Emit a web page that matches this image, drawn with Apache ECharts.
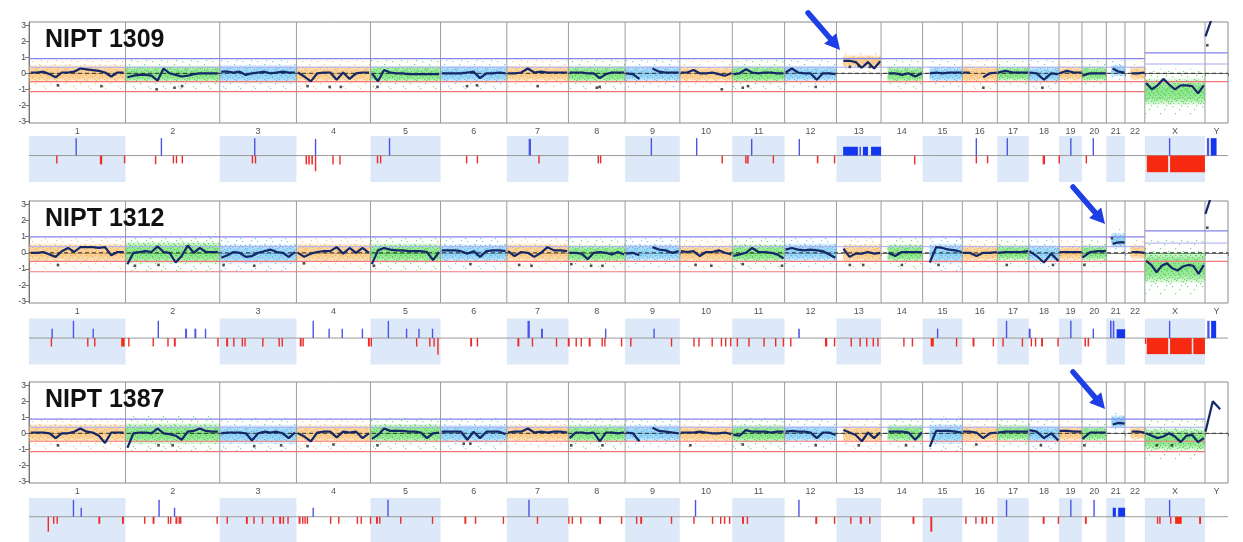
<!DOCTYPE html>
<html><head><meta charset="utf-8">
<script src="https://cdn.jsdelivr.net/npm/echarts@6/dist/echarts.min.js"></script>
<style>html,body{margin:0;padding:0;background:#fff}#c{width:1243px;height:542px}</style>
</head><body><div id="c"></div>
<script>
// ---------------- DATA ----------------
const chromNames = ['1','2','3','4','5','6','7','8','9','10','11','12','13','14','15','16','17','18','19','20','21','22','X','Y'];
const chromLengths = [249.25,243.2,198.0,191.15,180.9,171.1,159.1,146.4,141.2,135.5,135.0,133.85,115.2,107.35,102.5,90.35,81.2,78.1,59.1,63.0,48.1,51.3,155.3,59.4];
const acroGapMb = [0,0,0,0,0,0,0,0,0,0,0,0,17,17,18,0,0,0,0,0,13,14,0,0];
const yTicks = [-3,-2,-1,0,1,2,3];
const sampleNames = ['NIPT 1309','NIPT 1312','NIPT 1387'];

// segmentation (dark line), values read along each chromosome
const seg1309 = [
 [0.05,0.05,0.1,-0.05,-0.25,0.05,0.05,0.1,0.3,0.25,0.2,0.15,0.05,-0.2,0.05,0.05],
 [-0.25,-0.15,-0.1,-0.1,-0.15,-0.45,0.3,0.0,-0.1,-0.2,-0.15,-0.05,0.0,0.0,0.0,0.0],
 [0.1,0.1,0.05,0.1,-0.1,0.0,0.05,0.1,0.0,0.05,0.1,0.05,0.05],
 [0.05,-0.2,-0.5,0.0,0.05,0.05,-0.4,0.05,-0.35,0.0,0.05,0.05],
 [0.0,-0.5,0.2,0.05,0.0,0.0,-0.05,-0.05,-0.05,-0.05,-0.05,-0.05],
 [0.0,0.0,0.0,0.0,0.05,0.1,-0.3,0.0,0.0,0.05,0.0],
 [0.0,0.0,0.05,0.3,0.05,0.1,0.05,0.05,0.05,0.05],
 [0.05,0.05,0.05,0.0,0.0,-0.3,-0.05,0.05,0.05,0.05],
 [0.0,-0.05,-0.35,null,0.3,0.1,0.05,0.05,0.05],
 [0.05,0.05,0.2,0.0,0.0,0.05,-0.05,-0.15,0.0],
 [-0.05,0.0,0.25,0.05,0.0,0.05,0.05,0.0,0.0],
 [0.05,0.3,0.05,0.0,0.0,-0.4,0.0,0.0,-0.05],
 [null,0.78,0.78,0.7,0.35,0.7,0.3,0.75],
 [null,0.0,0.0,-0.1,0.0,-0.2,0.0],
 [null,0.0,0.05,0.0,0.05,0.05,0.05],
 [0.05,0.05,null,-0.25,0.0,0.05],
 [0.05,0.15,0.05,0.05,0.05],
 [0.05,0.0,-0.4,0.0,-0.05],
 [0.0,0.15,0.05,0.05],
 [-0.15,0.0,0.0,0.0],
 [null,0.3,0.1,0.05],
 [null,0.0,0.0,0.05],
 [-0.6,-1.0,-0.75,-0.35,-0.7,-1.0,-0.75,-0.75,-0.8,-1.25,-0.75],
 [2.3,3.6,null,null]
];
const seg1312 = [
 [0.0,0.0,0.05,-0.1,-0.25,0.1,0.3,0.05,0.35,0.35,0.35,0.3,0.35,-0.15,0.05,0.05],
 [-0.7,0.0,0.05,0.1,0.05,0.4,0.05,0.0,-0.6,-0.2,0.45,0.0,0.3,0.05,0.05,0.05],
 [-0.3,-0.15,0.05,0.0,-0.25,-0.2,0.0,0.1,0.2,0.05,0.0,-0.25,0.05],
 [0.0,-0.25,-0.05,0.05,0.1,0.1,0.35,-0.05,0.3,0.0,0.3,0.0],
 [-0.7,0.15,0.3,0.2,0.15,0.15,0.1,0.1,0.1,0.05,-0.45,0.05],
 [0.15,0.15,0.15,0.1,-0.05,0.1,-0.25,0.1,0.15,0.15,0.1],
 [0.1,-0.2,0.05,0.0,-0.25,0.0,0.35,0.15,0.15,0.1],
 [0.0,0.0,-0.05,-0.4,0.0,0.05,0.0,-0.1,0.05,-0.1],
 [-0.05,0.0,-0.15,null,0.35,0.2,0.15,0.0,0.1],
 [0.1,0.05,0.1,-0.2,0.05,0.05,0.15,0.0,-0.1],
 [-0.2,-0.1,0.0,0.3,0.05,0.05,0.0,-0.1,-0.35],
 [0.2,0.3,0.2,0.15,0.2,0.15,0.1,-0.1,-0.3],
 [null,0.25,-0.25,-0.05,-0.05,0.05,-0.05,0.0],
 [null,0.0,-0.2,0.05,0.05,0.05,0.05],
 [null,-0.6,0.35,0.3,0.2,0.15,0.05],
 [0.0,0.0,-0.2,0.0,0.0,0.05],
 [0.0,0.05,0.05,0.05,0.1],
 [0.1,-0.2,-0.6,-0.05,-0.5],
 [0.05,0.05,0.05,0.05],
 [-0.3,0.05,0.1,0.1],
 [null,0.55,0.65,0.65],
 [null,0.05,0.05,0.0],
 [-0.5,-0.75,-1.2,-0.8,-0.65,-0.95,-1.1,-0.85,-0.75,-0.8,-1.3,-0.75],
 [2.4,3.8,null,null]
];
const seg1387 = [
 [0.05,0.05,0.05,0.0,-0.3,0.0,0.0,0.1,0.3,0.1,0.05,-0.15,-0.6,0.05,0.05,0.05],
 [-0.9,0.0,0.05,0.05,0.0,0.3,0.0,-0.05,-0.15,-0.4,0.1,0.15,0.3,0.15,0.1,0.1],
 [0.0,0.05,0.05,0.05,0.0,-0.45,0.0,0.1,0.05,0.1,0.0,-0.3,0.05],
 [0.0,-0.2,-0.5,0.05,0.1,0.1,-0.25,0.1,0.05,0.1,-0.3,0.0],
 [-0.35,-0.1,0.3,0.15,0.15,0.15,0.1,0.1,0.05,-0.3,0.0,0.05],
 [0.1,0.1,0.1,0.1,-0.4,0.1,-0.3,0.1,0.1,0.1,-0.05],
 [0.05,0.1,0.1,0.3,0.05,0.1,0.05,0.1,0.1,0.05],
 [-0.3,0.05,0.05,0.0,0.05,-0.5,0.05,0.05,0.0,0.05],
 [0.05,0.0,-0.5,null,0.35,0.15,0.1,0.05,0.0],
 [0.05,0.05,0.05,0.1,0.05,0.0,0.0,0.05,-0.05],
 [-0.1,-0.15,0.2,0.1,0.1,0.1,0.05,0.1,0.1],
 [0.1,0.15,0.1,0.1,0.05,-0.3,0.05,0.05,-0.1],
 [null,0.2,0.05,-0.1,-0.5,0.05,-0.3,0.05],
 [null,0.1,0.1,0.1,0.05,-0.4,0.05],
 [null,-0.85,0.15,0.15,0.15,0.1,0.05],
 [0.1,0.1,0.05,-0.3,0.0,0.05],
 [0.05,0.1,0.1,0.1,0.1],
 [0.2,0.1,-0.3,0.0,-0.45],
 [0.15,0.15,0.1,0.1],
 [-0.35,0.05,0.05,0.05],
 [null,0.55,0.65,0.6],
 [null,0.1,0.1,0.05],
 [0.0,-0.15,-0.3,-0.2,0.0,-0.2,-0.55,-0.15,-0.1,-0.55,-0.3],
 [0.1,2.0,1.5,null]
];

// read-ratio clouds: [low, high] per chromosome
const band1309 = [[-0.6,0.55],[-0.6,0.5],[-0.65,0.55],[-0.6,0.5],[-0.6,0.5],[-0.6,0.5],[-0.55,0.5],[-0.6,0.5],[-0.55,0.5],[-0.55,0.45],[-0.6,0.5],[-0.55,0.5],[0.35,1.15],[-0.6,0.45],[-0.55,0.45],[-0.6,0.5],[-0.5,0.45],[-0.6,0.45],[-0.5,0.45],[-0.5,0.45],[-0.2,0.55],[-0.45,0.45],[-2.0,-0.3],null];
const band1312 = [[-0.6,0.6],[-0.7,0.7],[-0.7,0.55],[-0.6,0.6],[-0.65,0.6],[-0.6,0.55],[-0.6,0.6],[-0.6,0.5],[-0.55,0.55],[-0.6,0.5],[-0.6,0.55],[-0.55,0.6],[-0.6,0.55],[-0.6,0.55],[-0.7,0.6],[-0.55,0.5],[-0.5,0.5],[-0.6,0.5],[-0.5,0.45],[-0.5,0.5],[0.3,1.25],[-0.4,0.5],[-1.9,0.1],null];
const band1387 = [[-0.6,0.6],[-0.7,0.65],[-0.7,0.55],[-0.6,0.55],[-0.6,0.6],[-0.6,0.55],[-0.55,0.55],[-0.6,0.55],[-0.55,0.55],[-0.55,0.5],[-0.6,0.55],[-0.55,0.5],[-0.6,0.5],[-0.55,0.55],[-0.7,0.6],[-0.55,0.5],[-0.5,0.55],[-0.6,0.5],[-0.5,0.45],[-0.5,0.45],[0.3,1.15],[-0.4,0.45],[-1.1,0.35],null];

// bin outliers: [chromosome index, fraction along chromosome, value]
const out1309 = [[0,0.3,-0.75],[0,0.75,-0.8],[1,0.33,-1.0],[1,0.52,-0.9],[1,0.6,-0.8],[3,0.15,-0.8],[3,0.45,-0.85],[3,0.6,-0.85],[4,0.1,-0.85],[5,0.4,-0.8],[5,0.55,-0.75],[6,0.5,-0.8],[7,0.5,-0.9],[7,0.55,-0.85],[9,0.8,-1.0],[10,0.2,-0.9],[10,0.3,-0.8],[11,0.6,-0.85],[12,0.5,0.45],[12,0.3,0.4],[12,0.75,0.4],[15,0.6,-0.9],[17,0.45,-0.9],[23,0.1,1.75]];
const out1312 = [[0,0.3,-0.75],[1,0.1,-0.8],[1,0.35,-0.75],[2,0.05,-0.75],[2,0.45,-0.8],[3,0.1,-0.65],[4,0.05,-0.8],[5,0.45,-0.7],[6,0.2,-0.75],[6,0.4,-0.8],[7,0.05,-0.7],[7,0.4,-0.8],[7,0.6,-0.8],[9,0.3,-0.75],[9,0.6,-0.8],[10,0.2,-0.7],[10,0.95,-0.8],[12,0.3,-0.75],[12,0.6,-0.75],[13,0.5,-0.75],[14,0.4,-0.75],[16,0.3,-0.75],[17,0.8,-0.75],[19,0.1,-0.75],[20,0.3,0.9],[23,0.1,1.55]];
const out1387 = [[0,0.3,-0.75],[1,0.35,-0.75],[1,0.5,-0.75],[2,0.45,-0.8],[2,0.8,-0.75],[3,0.15,-0.8],[3,0.5,-0.7],[4,0.1,-0.75],[5,0.35,-0.65],[5,0.45,-0.65],[7,0.05,-0.75],[7,0.6,-0.75],[9,0.2,-0.75],[10,0.2,-0.7],[11,0.6,-0.75],[12,0.5,-0.75],[13,0.6,-0.75],[15,0.4,-0.7],[17,0.4,-0.75],[19,0.1,-0.75],[22,0.2,-0.75],[22,0.45,-0.75]];

// threshold lines: [from chromosome, to chromosome (inclusive), value, kind]
const thr1309 = [[0,23,0,'zero'],[0,21,0.92,'upper'],[0,21,0.38,'inner'],[0,23,-0.52,'loss'],[0,21,-1.14,'loss'],[22,23,1.27,'upper'],[22,23,0.58,'inner']];
const thr1312 = [[0,23,0,'zero'],[0,21,0.98,'upper'],[0,21,0.38,'inner'],[0,23,-0.53,'loss'],[0,21,-1.17,'loss'],[22,23,1.35,'upper'],[22,23,0.6,'inner']];
const thr1387 = [[0,23,0,'zero'],[0,22,0.88,'upper'],[0,22,0.38,'inner'],[0,22,-0.5,'loss'],[0,22,-1.14,'loss']];

// CNV calls in lower strip: [start Mb, end Mb, value]
const calls1309 = [[120,123,0.89],[340,343,0.89],[581,584,0.89],[738,741,0.85],[929,932,0.89],[1290,1296,0.85],[1605,1608,0.89],[1722,1725,0.89],[1864,1867,0.85],[1987,1990,0.85],[2444,2447,0.89],[2524,2527,0.89],[2688,2691,0.89],[2746,2749,0.89],[2943,2946,0.89],
 [70,73,-0.4],[183,189,-0.45],[245,248,-0.4],[325,328,-0.45],[371,374,-0.4],[379,382,-0.4],[394,397,-0.4],[575,578,-0.4],[583,586,-0.4],[714,718,-0.45],[721,725,-0.45],[729,733,-0.45],[738,741,-0.8],[783,786,-0.45],[801,804,-0.45],[898,901,-0.4],[906,909,-0.4],[1128,1131,-0.4],[1156,1159,-0.4],[1315,1318,-0.4],[1468,1471,-0.4],[1474,1477,-0.4],[1788,1791,-0.4],[1849,1852,-0.4],[1854,1858,-0.4],[1920,1923,-0.4],[2034,2038,-0.4],[2078,2081,-0.4],[2285,2288,-0.45],[2444,2447,-0.4],[2473,2476,-0.4],[2617,2623,-0.45],[2658,2661,-0.4],[2728,2731,-0.4],
 [2102,2140,0.45],[2144,2148,0.45],[2153,2166,0.45],[2174,2200,0.45],[2886,2941,-0.85],[2946,3036,-0.85],[3041,3047,0.89],[3051,3066,0.89]];
const calls1312 = [[58,61,0.48],[113,116,0.88],[164,167,0.48],[332,335,0.88],[403,408,0.48],[427,432,0.48],[454,457,0.48],[732,735,0.88],[773,776,0.48],[807,810,0.48],[859,862,0.48],[926,929,0.88],[973,976,0.48],[1005,1008,0.48],[1040,1043,0.48],[1287,1293,0.88],[1322,1327,0.48],[1487,1490,0.48],[1612,1615,0.48],[1986,1990,0.48],[2344,2347,0.48],[2522,2525,0.88],[2581,2586,0.48],[2688,2691,0.88],[2746,2749,0.48],[2791,2795,0.88],[2798,2802,0.88],[2943,2946,0.88],
 [56,59,-0.43],[150,153,-0.43],[168,171,-0.43],[238,247,-0.43],[256,259,-0.43],[319,322,-0.43],[357,360,-0.43],[374,379,-0.43],[486,489,-0.43],[509,514,-0.43],[527,530,-0.43],[549,552,-0.43],[556,559,-0.43],[602,605,-0.43],[644,647,-0.43],[652,655,-0.43],[699,704,-0.43],[706,709,-0.43],[875,880,-0.43],[882,885,-0.43],[999,1002,-0.43],[1033,1036,-0.43],[1044,1047,-0.43],[1054,1057,-0.85],[1139,1144,-0.43],[1156,1159,-0.43],[1261,1266,-0.43],[1298,1301,-0.43],[1360,1363,-0.43],[1391,1396,-0.43],[1411,1414,-0.43],[1424,1427,-0.43],[1445,1450,-0.43],[1478,1481,-0.43],[1485,1488,-0.43],[1528,1531,-0.43],[1552,1555,-0.43],[1657,1660,-0.43],[1715,1718,-0.43],[1728,1731,-0.43],[1762,1765,-0.43],[1786,1789,-0.43],[1797,1800,-0.43],[1810,1813,-0.43],[1827,1830,-0.43],[1857,1860,-0.43],[1896,1899,-0.43],[1926,1929,-0.43],[1946,1949,-0.43],[1965,1968,-0.43],[2055,2061,-0.43],[2078,2081,-0.43],[2121,2124,-0.43],[2144,2147,-0.43],[2161,2164,-0.43],[2178,2181,-0.43],[2190,2193,-0.43],[2257,2260,-0.43],[2279,2282,-0.43],[2328,2336,-0.43],[2393,2396,-0.43],[2436,2441,-0.43],[2488,2491,-0.43],[2513,2516,-0.43],[2563,2566,-0.43],[2586,2589,-0.43],[2597,2600,-0.43],[2613,2618,-0.43],[2655,2658,-0.43],[2725,2729,-0.43],[2733,2737,-0.43],[2881,2884,-0.3],
 [2808,2830,0.45],[2886,2941,-0.82],[2946,3002,-0.82],[3006,3036,-0.82],[3042,3048,0.88],[3052,3065,0.88]];
const calls1387 = [[113,116,0.9],[133,136,0.48],[334,337,0.9],[374,377,0.48],[732,735,0.48],[925,928,0.9],[1289,1292,0.9],[1719,1722,0.9],[1986,1989,0.9],[2522,2525,0.9],[2688,2691,0.9],[2748,2751,0.9],[2943,2946,0.9],
 [48,51,-0.8],[62,65,-0.38],[71,74,-0.38],[179,184,-0.38],[240,245,-0.38],[297,300,-0.38],[319,324,-0.38],[358,361,-0.38],[364,367,-0.38],[378,383,-0.38],[386,389,-0.38],[390,393,-0.38],[484,487,-0.38],[510,513,-0.38],[560,565,-0.38],[579,582,-0.38],[601,604,-0.38],[629,632,-0.38],[646,651,-0.38],[655,658,-0.38],[667,670,-0.38],[696,701,-0.38],[705,708,-0.38],[711,714,-0.38],[717,720,-0.38],[777,780,-0.38],[798,801,-0.38],[846,849,-0.38],[856,859,-0.38],[880,883,-0.38],[896,901,-0.38],[904,907,-0.38],[958,961,-0.38],[1040,1043,-0.38],[1124,1129,-0.38],[1151,1154,-0.38],[1223,1226,-0.38],[1311,1314,-0.38],[1392,1395,-0.38],[1401,1404,-0.38],[1423,1426,-0.38],[1472,1477,-0.38],[1528,1531,-0.38],[1567,1570,-0.38],[1578,1583,-0.38],[1657,1660,-0.38],[1715,1718,-0.38],[1763,1766,-0.38],[1784,1787,-0.38],[1794,1797,-0.38],[1807,1810,-0.38],[1841,1846,-0.38],[1853,1856,-0.38],[2030,2035,-0.38],[2078,2081,-0.38],[2120,2123,-0.38],[2145,2150,-0.38],[2169,2172,-0.38],[2281,2286,-0.38],[2327,2332,-0.8],[2417,2420,-0.38],[2443,2446,-0.38],[2459,2464,-0.38],[2470,2473,-0.38],[2486,2489,-0.38],[2617,2622,-0.38],[2656,2659,-0.38],[2726,2731,-0.38],[2912,2915,-0.38],[2918,2921,-0.38],[2946,2949,-0.38],[3021,3026,-0.38],
 [2959,2976,-0.38],[2798,2806,0.48],[2812,2830,0.48]];

// arrow tips: [genome Mb, ratio value]
const arrowTips = [[2094,1.46],[2778,1.78],[2778,1.52]];

// ---------------- BUILD ----------------
const cumStart = [];
let acc = 0;
chromLengths.forEach(l => { cumStart.push(acc); acc += l; });
const totalLen = acc;
const boundaries = cumStart.concat([totalLen]);
const centers = chromLengths.map((l, i) => cumStart[i] + l / 2);

const panels = [
  {seg: seg1309, band: band1309, out: out1309, thr: thr1309, calls: calls1309},
  {seg: seg1312, band: band1312, out: out1312, thr: thr1312, calls: calls1312},
  {seg: seg1387, band: band1387, out: out1387, thr: thr1387, calls: calls1387}
];

const mainTop = [22, 201, 382];
const mainH = [101, 102, 101];
const stripTop = [136, 318.5, 498];
const stripH = 46;
const L = 29, R = 15;
const Y_MIN = -3.1, Y_MAX = 3.2, S_MIN = -1.35, S_MAX = 1;

const bandColors = ['#f7b150', '#45d445', '#55b8f0'];
function rgba(hex, a) {
  const n = parseInt(hex.slice(1), 16);
  return 'rgba(' + (n >> 16) + ',' + ((n >> 8) & 255) + ',' + (n & 255) + ',' + a + ')';
}
const tileDots = [[1,1],[6,0],[3,3],[8,3],[0,5],[5,5],[9,7],[2,7],[7,8],[4,9]];
const sparseDots = [[2,1],[9,4],[5,8],[13,11],[0,13],[11,0]];
function makePattern(c, dots, size, a) {
  const cv = document.createElement('canvas');
  cv.width = size; cv.height = size;
  const ctx = cv.getContext('2d');
  ctx.fillStyle = rgba(c, a);
  dots.forEach(d => ctx.fillRect(d[0], d[1], 1.2, 1.2));
  return {type: 'pattern', image: cv, repeat: 'repeat'};
}
const patterns = bandColors.map(c => makePattern(c, tileDots, 10, 0.9));
const sparsePatterns = bandColors.map(c => makePattern(c, sparseDots, 15, 0.8));

const grids = [], xAxes = [], yAxes = [], series = [];
panels.forEach((p, k) => {
  const gm = k * 2, gs = k * 2 + 1;
  grids.push({left: L, right: R, top: mainTop[k], height: mainH[k], show: true, borderColor: '#8a8a8a', borderWidth: 1, backgroundColor: 'transparent'});
  grids.push({left: L, right: R, top: stripTop[k], height: stripH, show: false});
  xAxes.push({
    gridIndex: gm, type: 'value', min: 0, max: totalLen,
    axisLine: {show: true, lineStyle: {color: '#777'}},
    axisTick: {show: true, customValues: boundaries, length: 3, lineStyle: {color: '#777'}},
    axisLabel: {show: true, customValues: centers, margin: 4, fontSize: 9, color: '#555', fontFamily: 'Liberation Sans, Arial, sans-serif',
      formatter: v => { let bi = 0, bd = 1e9; centers.forEach((c, i) => { const d = Math.abs(c - v); if (d < bd) { bd = d; bi = i; } }); return chromNames[bi]; }},
    splitLine: {show: false}
  });
  xAxes.push({gridIndex: gs, type: 'value', min: 0, max: totalLen, show: false});
  yAxes.push({
    gridIndex: gm, type: 'value', min: Y_MIN, max: Y_MAX,
    axisLine: {show: true, lineStyle: {color: '#777'}},
    axisTick: {show: true, customValues: yTicks, length: 4, lineStyle: {color: '#777'}},
    axisLabel: {show: true, customValues: yTicks, margin: 3, fontSize: 8.5, color: '#444', fontFamily: 'Liberation Sans, Arial, sans-serif'},
    splitLine: {show: false}
  });
  yAxes.push({gridIndex: gs, type: 'value', min: S_MIN, max: S_MAX, show: false});

  // strip shaded boxes (alternating chromosomes)
  const shade = [];
  chromLengths.forEach((l, i) => { if (i % 2 === 0 && i < 23) shade.push([cumStart[i], cumStart[i] + l]); });
  series.push({
    type: 'custom', xAxisIndex: gs, yAxisIndex: gs, z: 1, silent: true, data: shade,
    renderItem: (params, api) => {
      const a = api.coord([api.value(0), S_MAX]), b = api.coord([api.value(1), S_MIN]);
      return {type: 'rect', shape: {x: a[0], y: a[1], width: b[0] - a[0], height: b[1] - a[1]}, style: {fill: '#dde9f8'}};
    }
  });
  // strip baseline
  series.push({type: 'line', xAxisIndex: gs, yAxisIndex: gs, z: 2, silent: true, symbol: 'none',
    data: [[0, 0], [totalLen, 0]], lineStyle: {color: '#9a9a9a', width: 1}});
  // strip calls
  series.push({
    type: 'custom', xAxisIndex: gs, yAxisIndex: gs, z: 3, silent: true, data: p.calls,
    renderItem: (params, api) => {
      const v = api.value(2);
      const a = api.coord([api.value(0), v > 0 ? v : 0]), b = api.coord([api.value(1), v > 0 ? 0 : v]);
      const w = Math.max(b[0] - a[0], 1.4);
      return {type: 'rect', shape: {x: a[0], y: a[1], width: w, height: b[1] - a[1]},
        style: {fill: v > 0 ? (w > 3 ? '#1336ee' : '#4a55e6') : (w > 3 ? '#f52a10' : '#ee2a2a')}};
    }
  });

  // bands
  const bandData = [];
  p.band.forEach((b, i) => {
    if (!b) return;
    bandData.push([cumStart[i] + acroGapMb[i], cumStart[i] + chromLengths[i], b[0], b[1], i % 3]);
  });
  series.push({
    type: 'custom', xAxisIndex: gm, yAxisIndex: gm, z: 2, silent: true, data: bandData,
    renderItem: (params, api) => {
      const a = api.coord([api.value(0), api.value(3)]), b = api.coord([api.value(1), api.value(2)]);
      const ci = api.value(4), col = bandColors[ci];
      const w = b[0] - a[0], h = b[1] - a[1];
      return {type: 'group', children: [
        {type: 'rect', shape: {x: a[0], y: a[1] - h * 0.35, width: w, height: h * 1.7}, style: {fill: sparsePatterns[ci]}},
        {type: 'rect', shape: {x: a[0], y: a[1], width: w, height: h},
          style: {fill: new echarts.graphic.LinearGradient(0, 0, 0, 1, [
            {offset: 0, color: rgba(col, 0.05)}, {offset: 0.25, color: rgba(col, 0.5)}, {offset: 0.5, color: rgba(col, 0.62)},
            {offset: 0.75, color: rgba(col, 0.5)}, {offset: 1, color: rgba(col, 0.05)}])}},
        {type: 'rect', shape: {x: a[0], y: a[1] + h * 0.06, width: w, height: h * 0.88}, style: {fill: patterns[ci]}}
      ]};
    }
  });
  // chromosome boundaries
  series.push({
    type: 'custom', xAxisIndex: gm, yAxisIndex: gm, z: 3, silent: true, data: cumStart.slice(1).map(v => [v]),
    renderItem: (params, api) => {
      const a = api.coord([api.value(0), Y_MAX]), b = api.coord([api.value(0), Y_MIN]);
      return {type: 'line', shape: {x1: a[0], y1: a[1], x2: b[0], y2: b[1]}, style: {stroke: '#9c9c9c', lineWidth: 1}};
    }
  });
  // thresholds
  const thrStyle = {
    zero: {stroke: '#333', lineWidth: 1, lineDash: [4, 3]},
    upper: {stroke: '#8484ee', lineWidth: 1.2},
    inner: {stroke: '#a9a9f3', lineWidth: 1},
    loss: {stroke: '#f27878', lineWidth: 1.1}
  };
  const thrKinds = ['zero', 'upper', 'inner', 'loss'];
  series.push({
    type: 'custom', xAxisIndex: gm, yAxisIndex: gm, z: 4, silent: true,
    data: p.thr.map(t => [cumStart[t[0]], cumStart[t[1]] + chromLengths[t[1]], t[2], thrKinds.indexOf(t[3])]),
    renderItem: (params, api) => {
      const a = api.coord([api.value(0), api.value(2)]), b = api.coord([api.value(1), api.value(2)]);
      return {type: 'line', shape: {x1: a[0], y1: a[1], x2: b[0], y2: b[1]}, style: Object.assign({}, thrStyle[thrKinds[api.value(3)]])};
    }
  });
  // segmentation line
  const segData = [];
  p.seg.forEach((vals, i) => {
    const n = vals.length;
    vals.forEach((v, j) => {
      const f = n > 1 ? 0.02 + 0.96 * j / (n - 1) : 0.5;
      segData.push([cumStart[i] + f * chromLengths[i], v]);
    });
    segData.push([cumStart[i] + chromLengths[i], null]);
  });
  series.push({type: 'line', xAxisIndex: gm, yAxisIndex: gm, z: 6, silent: true, showSymbol: false, connectNulls: false,
    clip: true, data: segData, lineStyle: {color: '#142766', width: 2.2}});
  // outliers
  series.push({type: 'scatter', xAxisIndex: gm, yAxisIndex: gm, z: 7, silent: true, symbol: 'rect', symbolSize: 2.6,
    data: p.out.map(o => [cumStart[o[0]] + o[1] * chromLengths[o[0]], o[2]]), itemStyle: {color: '#222'}});
});

const chart = echarts.init(document.getElementById('c'), null, {renderer: 'canvas'});
chart.setOption({animation: false, backgroundColor: '#fff', grid: grids, xAxis: xAxes, yAxis: yAxes, series: series});

// annotations: titles and arrows
const graphics = [];
sampleNames.forEach((name, k) => {
  const py = chart.convertToPixel({xAxisIndex: k * 2, yAxisIndex: k * 2}, [0, 2.1]);
  graphics.push({type: 'text', z: 100, style: {text: name, x: 45, y: py[1], verticalAlign: 'middle',
    font: 'bold 25px "Liberation Sans", Arial, sans-serif', fill: '#111'}});
});
arrowTips.forEach((t, k) => {
  const tip = chart.convertToPixel({xAxisIndex: k * 2, yAxisIndex: k * 2}, t);
  const dx = 32, dy = 37, len = Math.sqrt(dx * dx + dy * dy);
  const ux = dx / len, uy = dy / len, nx = -uy, ny = ux;
  const hl = 15, hw = 8;
  const bx = tip[0] - hl * ux, by = tip[1] - hl * uy;
  graphics.push({type: 'line', z: 100, shape: {x1: tip[0] - dx, y1: tip[1] - dy, x2: bx + ux, y2: by + uy}, style: {stroke: '#1f3fe6', lineWidth: 5.5, lineCap: 'round'}});
  graphics.push({type: 'polygon', z: 100, shape: {points: [[tip[0], tip[1]], [bx + hw * nx, by + hw * ny], [bx - hw * nx, by - hw * ny]]}, style: {fill: '#1f3fe6'}});
});
chart.setOption({graphic: graphics});
</script>
</body></html>
